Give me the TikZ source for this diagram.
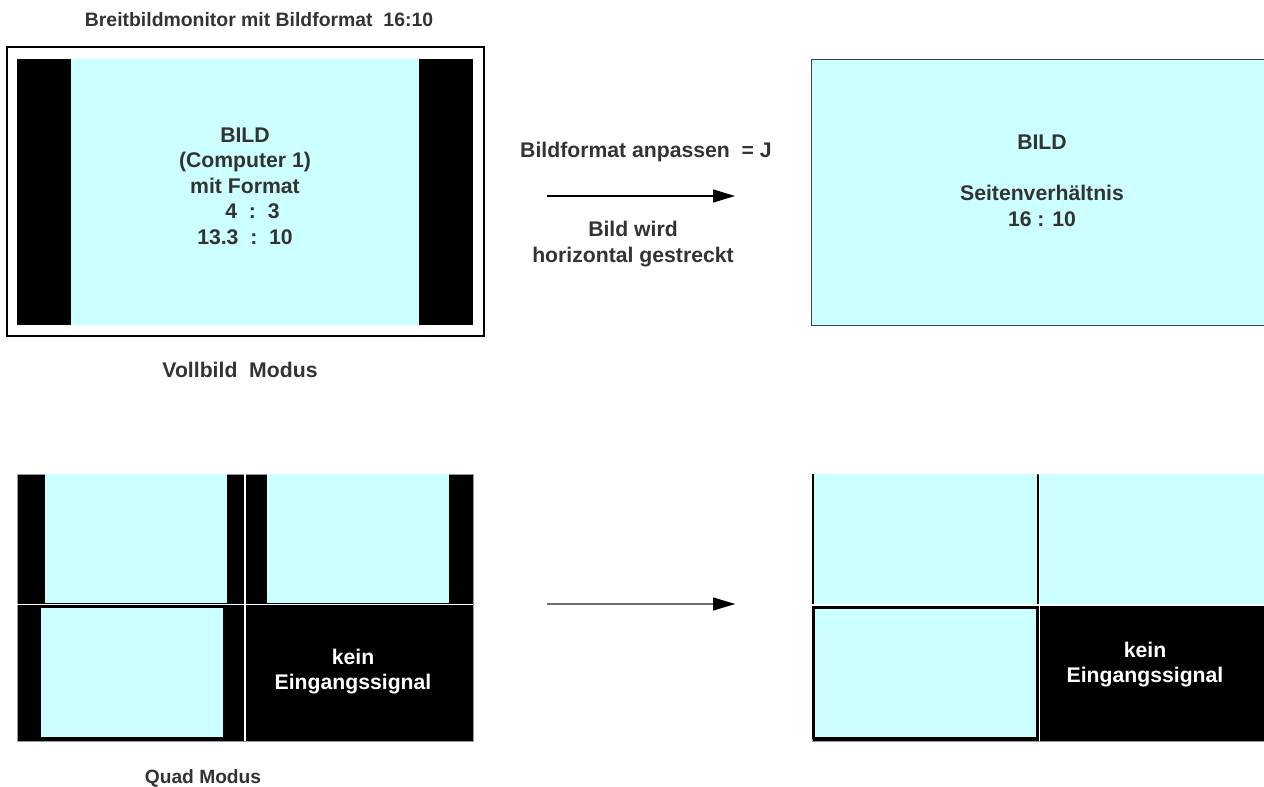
\documentclass[tikz,border=0pt]{standalone}
\usepackage{fontspec}
\setmainfont{Liberation Sans}
\usetikzlibrary{arrows.meta}
\definecolor{scr}{HTML}{CCFFFF}
\definecolor{txt}{HTML}{333333}
\definecolor{framegray}{HTML}{999999}
\definecolor{arrgray}{HTML}{707070}
\begin{document}
\begin{tikzpicture}[x=1pt,y=-1pt,
  lbl/.style={font=\fontsize{21.2}{25.5}\selectfont\bfseries, text=txt, align=center, inner sep=0pt},
  wlbl/.style={lbl, font=\fontsize{21.2}{25}\selectfont\bfseries, text=white},
  conn/.style={draw=#1, line width=1.1pt, -{Triangle[length=22pt,width=13pt]}},
  conn/.default=black,
  divider/.style={draw=white, line width=1.8pt}]
\useasboundingbox (0,0) rectangle (1264,787);
\clip (0,0) rectangle (1264,787);

% ---------- top left: 16:10 monitor with 4:3 picture ----------
\draw[line width=1.5pt, fill=white] (7,47) rectangle (484,336);
\fill[black] (17,59) rectangle (473,325);
\fill[scr] (71,59) rectangle (419,325);
\node[lbl] (bild1) at (245,186) {BILD\\(Computer 1)\\mit Format\\\hspace*{15pt}4\ \ :\ \ 3\\13.3\ \ :\ \ 10};

\node[lbl, font=\fontsize{19.4}{24}\selectfont\bfseries, anchor=base] (title) at (259,27) {Breitbildmonitor mit Bildformat\ \ 16:10};
\node[lbl, anchor=base] (vollbild) at (240,377) {Vollbild\ \ Modus};

% ---------- top right: stretched picture ----------
\draw[draw=black!75, line width=1pt, fill=scr] (811,59) rectangle (1270,325);
\node[lbl] (bild2) at (1042,181) {BILD\\[25.5pt]Seitenverh\"altnis\\16 : 10};

% ---------- top arrow ----------
\node[lbl] (anpassen) at (646,152) {Bildformat anpassen\ \ = J};
\coordinate (a1s) at (547,196);
\coordinate (a1e) at (735,196);
\draw[conn] (a1s) -- (a1e);
\node[lbl] (gestreckt) at (633,244) {Bild wird\\horizontal gestreckt};

% ---------- bottom left: quad mode ----------
\draw[draw=framegray, line width=0.8pt, fill=black] (17,474) rectangle (473,741);
\fill[scr] (45,474) rectangle (227,603);
\fill[scr] (267,474) rectangle (449,603);
\fill[scr] (41,608) rectangle (223,737);
\draw[divider] (245,474) -- (245,741);
\draw[divider] (17,604.5) -- (473,604.5);
\node[wlbl] (kein1) at (353,672) {kein\\Eingangssignal};
\node[lbl, font=\fontsize{19.2}{24}\selectfont\bfseries, anchor=base] (quad) at (203,783) {Quad Modus};

% ---------- bottom arrow ----------
\coordinate (a2s) at (547,604);
\coordinate (a2e) at (735,604);
\draw[conn=arrgray] (a2s) -- (a2e);
\fill[black] (713,597.5) -- (735,604) -- (713,610.5) -- cycle;

% ---------- bottom right: quad mode stretched ----------
\draw[draw=framegray, line width=0.8pt, fill=black] (812,474) rectangle (1270,741);
\fill[scr] (813,474.4) rectangle (1038,603.5);
\draw[draw=black, line width=2.5pt] (813,474.4) -- (813,603.5);
\draw[draw=black, line width=0.9pt] (1037.5,474.4) -- (1037.5,603.5);
\fill[scr] (1040,474.4) rectangle (1270,603.5);
\draw[draw=black, line width=2.5pt, fill=scr] (813.5,607.5) rectangle (1037.5,738);
\draw[divider, line width=1.2pt] (1039.5,474) -- (1039.5,741);
\draw[divider] (812,605.3) -- (1270,605.3);
\node[wlbl] (kein2) at (1145,665) {kein\\Eingangssignal};
\end{tikzpicture}
\end{document}
